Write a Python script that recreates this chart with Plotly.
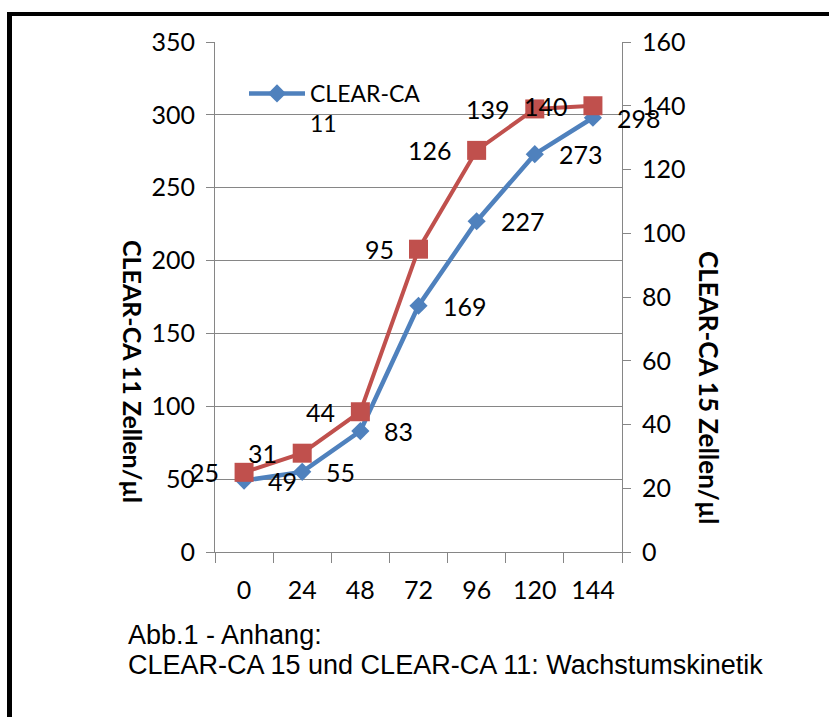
import plotly.graph_objects as go

hours = ["0", "24", "48", "72", "96", "120", "144"]
ca11 = [49, 55, 83, 169, 227, 273, 298]
ca15 = [25, 31, 44, 95, 126, 139, 140]
left_ticks = [0, 50, 100, 150, 200, 250, 300, 350]
right_ticks = [0, 20, 40, 60, 80, 100, 120, 140, 160]

W, H = 829, 717
L, R, T, B = 215, 622, 42, 552
BLUE = "#4F81BD"
RED = "#C0504D"
GRID = "#868686"
FONT = "Lato, Calibri, 'Open Sans', sans-serif"
CAPFONT = "'Liberation Sans', Arial, sans-serif"


def px(x):
    return (x - L) / (R - L)


def py(y):
    return (B - y) / (B - T)


fig = go.Figure()
fig.add_trace(go.Scatter(
    x=hours, y=ca15, yaxis="y2", mode="lines+markers", name="CLEAR-CA 15",
    line=dict(color=RED, width=4), marker=dict(symbol="square", size=19, color=RED),
    showlegend=False,
))
fig.add_trace(go.Scatter(
    x=hours, y=ca11, yaxis="y", mode="lines+markers", name="CLEAR-CA<br>11",
    line=dict(color=BLUE, width=4.5), marker=dict(symbol="diamond", size=14, color=BLUE),
))

ann = []
for i, v in enumerate(ca11):
    ann.append(dict(x=i, y=v, xref="x", yref="y", text=str(v), showarrow=False,
                    xanchor="left", yanchor="middle", xshift=22,
                    font=dict(family=FONT, size=25, color="#000")))
for i, v in enumerate(ca15):
    ann.append(dict(x=i, y=v, xref="x", yref="y2", text=str(v), showarrow=False,
                    xanchor="right", yanchor="middle", xshift=-23,
                    font=dict(family=FONT, size=25, color="#000")))

ann.append(dict(x=px(133), y=py(371), xref="paper", yref="paper", text="<b>CLEAR-CA 11 Zellen/µl</b>",
                textangle=90, xanchor="center", yanchor="middle", showarrow=False,
                font=dict(family=FONT, size=25, color="#000")))
ann.append(dict(x=px(709), y=py(388), xref="paper", yref="paper", text="<b>CLEAR-CA 15 Zellen/µl</b>",
                textangle=90, xanchor="center", yanchor="middle", showarrow=False,
                font=dict(family=FONT, size=26, color="#000")))
ann.append(dict(x=px(126), y=py(635), xref="paper", yref="paper", text="Abb.1 - Anhang:",
                xanchor="left", yanchor="middle", showarrow=False,
                font=dict(family=CAPFONT, size=27, color="#000")))
ann.append(dict(x=px(126), y=py(665), xref="paper", yref="paper",
                text="CLEAR-CA 15 und CLEAR-CA 11: Wachstumskinetik",
                xanchor="left", yanchor="middle", showarrow=False,
                font=dict(family=CAPFONT, size=27, color="#000")))

shapes = [
    dict(type="rect", xref="paper", yref="paper", x0=px(7), x1=px(829), y0=py(16), y1=py(12),
         fillcolor="#000", line=dict(width=0), layer="above"),
    dict(type="rect", xref="paper", yref="paper", x0=px(7), x1=px(12), y0=py(717), y1=py(12),
         fillcolor="#000", line=dict(width=0), layer="above"),
]

fig.update_layout(
    width=W, height=H,
    margin=dict(l=L, r=W - R, t=T, b=H - B, autoexpand=False),
    paper_bgcolor="white", plot_bgcolor="white",
    font=dict(family=FONT, size=25, color="#000"),
    xaxis=dict(type="category", range=[-0.5, len(hours) - 0.5], showline=True, linecolor=GRID,
               linewidth=1, ticks="outside", tickson="boundaries", ticklen=10, tickcolor=GRID,
               showgrid=False, ticklabelstandoff=16, tickfont=dict(size=25)),
    yaxis=dict(range=[0, 350], tickvals=left_ticks, showline=True, linecolor=GRID, linewidth=1,
               ticks="outside", ticklen=8, tickcolor=GRID, showgrid=True, gridcolor=GRID,
               gridwidth=1, zeroline=False, ticklabelstandoff=6, tickfont=dict(size=25)),
    yaxis2=dict(range=[0, 160], tickvals=right_ticks, overlaying="y", side="right",
                showline=True, linecolor=GRID, linewidth=1, ticks="outside", ticklen=8,
                tickcolor=GRID, showgrid=False, zeroline=False, ticklabelstandoff=6,
                tickfont=dict(size=25)),
    legend=dict(x=px(244), y=py(72), xanchor="left", yanchor="top", bgcolor="rgba(0,0,0,0)",
                borderwidth=0, valign="top", itemwidth=56, font=dict(family=FONT, size=23)),
    annotations=ann,
    shapes=shapes,
)

fig.write_html("out.html", config={"displayModeBar": False},
               post_script="document.body.style.margin='0';")
